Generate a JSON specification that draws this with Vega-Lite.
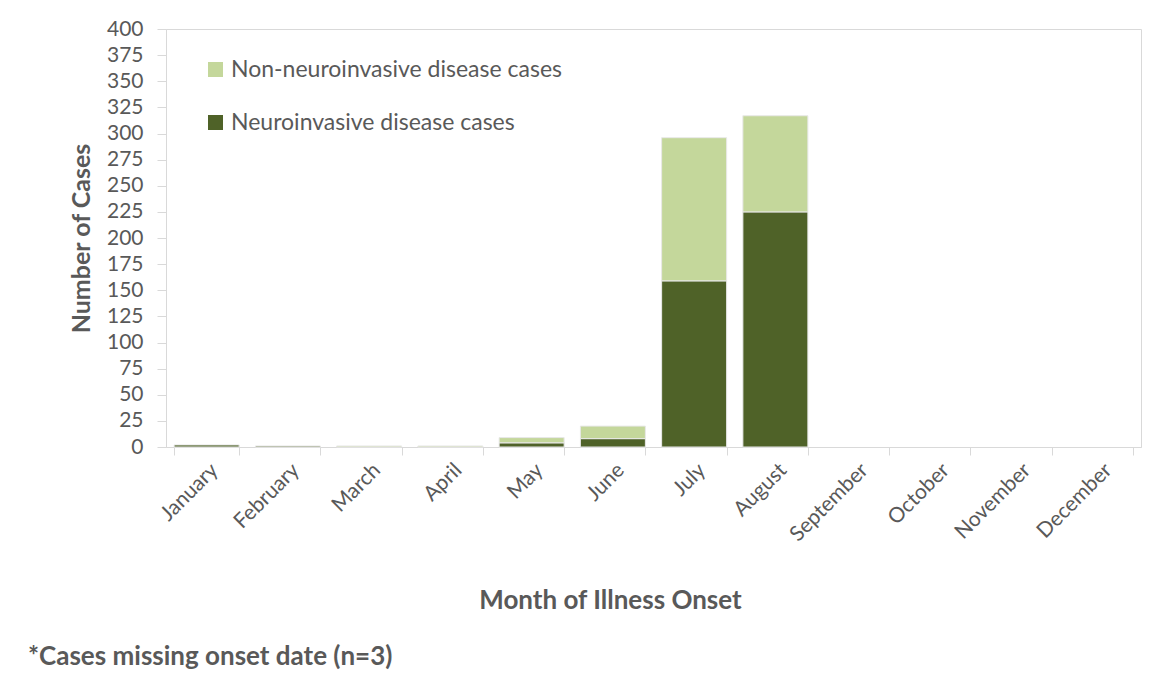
{
  "$schema": "https://vega.github.io/schema/vega-lite/v6.json",
  "width": 975,
  "height": 418,
  "autosize": {"type": "none"},
  "padding": {"left": 166, "top": 29, "right": 13, "bottom": 228},
  "background": "white",
  "data": {
    "values": [
      {"month": "January", "series": "Neuroinvasive disease cases", "cases": 2},
      {"month": "February", "series": "Neuroinvasive disease cases", "cases": 1},
      {"month": "March", "series": "Non-neuroinvasive disease cases", "cases": 1},
      {"month": "April", "series": "Non-neuroinvasive disease cases", "cases": 1},
      {"month": "May", "series": "Neuroinvasive disease cases", "cases": 4},
      {"month": "May", "series": "Non-neuroinvasive disease cases", "cases": 5},
      {"month": "June", "series": "Neuroinvasive disease cases", "cases": 8},
      {"month": "June", "series": "Non-neuroinvasive disease cases", "cases": 12},
      {"month": "July", "series": "Neuroinvasive disease cases", "cases": 159},
      {"month": "July", "series": "Non-neuroinvasive disease cases", "cases": 137},
      {"month": "August", "series": "Neuroinvasive disease cases", "cases": 225},
      {"month": "August", "series": "Non-neuroinvasive disease cases", "cases": 92}
    ]
  },
  "title": {
    "text": "*Cases missing onset date (n=3)",
    "orient": "bottom",
    "anchor": "start",
    "frame": "group",
    "dx": -138,
    "offset": 30,
    "font": "Lato",
    "fontSize": 26,
    "fontWeight": "bold",
    "color": "#595959"
  },
  "mark": {"type": "bar", "stroke": "#e8e8e8", "strokeWidth": 1},
  "encoding": {
    "x": {
      "field": "month",
      "type": "nominal",
      "sort": null,
      "scale": {
        "domain": ["January", "February", "March", "April", "May", "June", "July", "August", "September", "October", "November", "December"],
        "paddingInner": 0.2,
        "paddingOuter": 0.1
      },
      "axis": {
        "title": "Month of Illness Onset",
        "titleX": 444,
        "titlePadding": 43,
        "titleFontSize": 26,
        "labelAngle": -45,
        "labelFontSize": 21,
        "tickBand": "extent",
        "tickSize": 8,
        "labelPadding": 4,
        "domainColor": "#d9d9d9",
        "tickColor": "#d9d9d9"
      }
    },
    "y": {
      "field": "cases",
      "type": "quantitative",
      "scale": {"domain": [0, 400], "nice": false},
      "axis": {
        "title": "Number of Cases",
        "values": [0, 25, 50, 75, 100, 125, 150, 175, 200, 225, 250, 275, 300, 325, 350, 375, 400],
        "grid": false,
        "tickSize": 9,
        "labelPadding": 14,
        "titlePadding": 12,
        "titleFontSize": 25,
        "labelFontSize": 21,
        "domainColor": "#d9d9d9",
        "tickColor": "#d9d9d9"
      }
    },
    "color": {
      "field": "series",
      "type": "nominal",
      "scale": {
        "domain": ["Non-neuroinvasive disease cases", "Neuroinvasive disease cases"],
        "range": ["#c4d79b", "#4f6228"]
      },
      "legend": {
        "title": null,
        "orient": "none",
        "legendX": 38,
        "legendY": 29,
        "symbolType": "square",
        "symbolSize": 225,
        "symbolStrokeWidth": 0,
        "rowPadding": 29,
        "labelFontSize": 23,
        "labelFont": "Lato",
        "labelColor": "#595959",
        "labelOffset": 4,
        "labelLimit": 0
      }
    },
    "order": {"field": "series", "sort": "ascending"}
  },
  "config": {
    "view": {"stroke": "#d9d9d9"},
    "axis": {
      "labelFont": "Lato",
      "labelColor": "#595959",
      "titleFont": "Lato",
      "titleColor": "#595959",
      "titleFontWeight": "bold"
    }
  }
}
